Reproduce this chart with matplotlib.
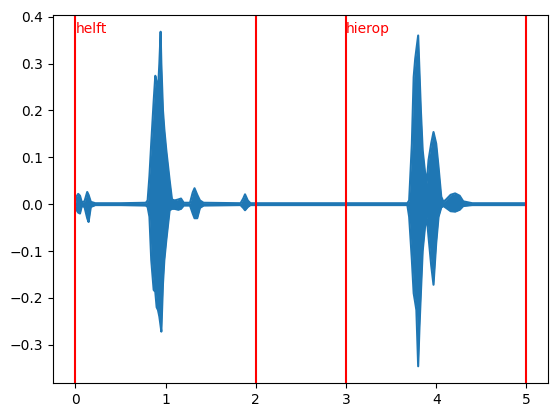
import numpy as np
import matplotlib
matplotlib.use("Agg")
import matplotlib.pyplot as plt

# ── Waveform envelope (seconds, amplitude) ────────────────────────────────────
t = [0.00, 0.01, 0.03, 0.05, 0.07, 0.10, 0.13, 0.145, 0.17, 0.22,
     0.50, 0.78, 0.80, 0.82, 0.84, 0.867, 0.885, 0.90, 0.915, 0.93,
     0.944, 0.952, 0.97, 0.985, 1.007, 1.044, 1.07, 1.10, 1.14, 1.17,
     1.20, 1.27, 1.30, 1.32, 1.35, 1.38, 1.42, 1.83, 1.86, 1.88,
     1.91, 1.94, 2.50, 3.68, 3.70, 3.73, 3.75, 3.767, 3.78, 3.80,
     3.815, 3.83, 3.85, 3.875, 3.895, 3.915, 3.944, 3.97, 4.00, 4.026,
     4.056, 4.08, 4.11, 4.16, 4.21, 4.26, 4.30, 4.40, 4.99]
upper = [0.002, 0.016, 0.022, 0.018, 0.004, 0.006, 0.026, 0.020, 0.005, 0.002,
         0.002, 0.003, 0.008, 0.060, 0.130, 0.220, 0.274, 0.260, 0.243, 0.300,
         0.368, 0.300, 0.200, 0.160, 0.115, 0.051, 0.010, 0.008, 0.010, 0.012,
         0.003, 0.003, 0.025, 0.034, 0.020, 0.008, 0.003, 0.002, 0.012, 0.021,
         0.008, 0.002, 0.002, 0.002, 0.008, 0.129, 0.271, 0.310, 0.330, 0.360,
         0.280, 0.200, 0.115, 0.070, 0.045, 0.094, 0.129, 0.154, 0.129, 0.079,
         0.016, 0.005, 0.010, 0.020, 0.023, 0.018, 0.006, 0.002, 0.002]
lower = [-0.002, -0.012, -0.018, -0.020, -0.004, -0.006, -0.030, -0.038, -0.006, -0.002,
         -0.002, -0.003, -0.006, -0.027, -0.119, -0.183, -0.187, -0.220, -0.226, -0.240,
         -0.260, -0.272, -0.170, -0.120, -0.077, -0.013, -0.010, -0.010, -0.012, -0.010,
         -0.003, -0.003, -0.020, -0.030, -0.030, -0.008, -0.003, -0.002, -0.008, -0.013,
         -0.006, -0.002, -0.002, -0.002, -0.027, -0.119, -0.190, -0.210, -0.226, -0.346,
         -0.260, -0.190, -0.100, -0.050, -0.027, -0.070, -0.130, -0.172, -0.083, -0.027,
         -0.007, -0.004, -0.008, -0.015, -0.016, -0.012, -0.004, -0.002, -0.002]

# word boundaries (seconds) and labels
boundaries = [0, 2, 3, 5]
words = ["helft", "hierop"]
word_starts = [0, 3]
label_y = 0.365

# ── Plot ─────────────────────────────────────────────────────────────────────
fig = plt.figure(figsize=(5.59, 4.17), dpi=100)
ax = fig.add_axes([0.0948, 0.0815, 0.8855, 0.8825])

ax.fill_between(t, lower, upper, color="C0", linewidth=0)
ax.plot(t, upper, color="C0", linewidth=1.5)
ax.plot(t, lower, color="C0", linewidth=1.5)

for b in boundaries:
    ax.axvline(b, color="r")
for w, s in zip(words, word_starts):
    ax.text(s, label_y, w, color="r")

fig.savefig("out.png", dpi=100)
